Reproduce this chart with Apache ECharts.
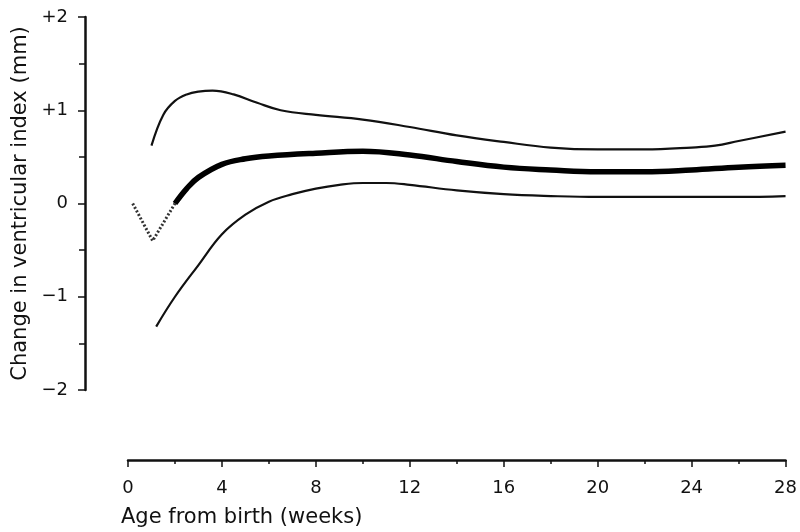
<!DOCTYPE html>
<html>
  <head>
    <meta charset="utf-8" />
  </head>
  <body style="margin: 0; background: #fff">
    <div id="container" style="width: 800px; height: 532px"></div>
    <script src="https://cdn.jsdelivr.net/npm/echarts@6/dist/echarts.min.js"></script>
    <script>
      // weeks from birth vs change in ventricular index (mm)
      const earlyDip = [[0.2, 0], [1.05, -0.4], [2, 0]]
      const meanLine = [
        [2, 0], [2.5, 0.16], [3, 0.28], [4, 0.42], [5, 0.48], [6, 0.51], [8, 0.54],
        [10, 0.56], [12, 0.52], [14, 0.45], [16, 0.39], [18, 0.36], [20, 0.34],
        [22, 0.34], [24, 0.36], [26, 0.39], [28, 0.41],
      ]
      const upperLine = [
        [1, 0.62], [1.5, 0.95], [2, 1.1], [2.5, 1.17], [3, 1.2], [3.6, 1.21], [4.5, 1.17],
        [5.5, 1.08], [6.5, 1.0], [8, 0.95], [10, 0.9], [12, 0.82], [14, 0.73], [16, 0.66],
        [18, 0.6], [20, 0.58], [22, 0.58], [24, 0.6], [25, 0.62], [26, 0.67], [28, 0.77],
      ]
      const lowerLine = [
        [1.2, -1.32], [2, -1.0], [3, -0.66], [4, -0.33], [5, -0.12], [6, 0.02], [7, 0.1],
        [8, 0.16], [9, 0.2], [10, 0.22], [11, 0.22], [12, 0.2], [14, 0.14], [16, 0.1],
        [18, 0.08], [20, 0.07], [22, 0.07], [24, 0.07], [26, 0.07], [28, 0.08],
      ]
      const yTickLabels = { '2': '+2', '1': '+1', '0': '0', '-1': '\u22121', '-2': '\u22122' }

      const font = 'DejaVu Sans'
      const ink = '#111'
      const chart = echarts.init(document.getElementById('container'), null, { renderer: 'canvas' })

      const thin = (data) => ({
        type: 'line',
        data: data,
        smooth: 0.4,
        symbol: 'none',
        lineStyle: { color: ink, width: 2.2 },
      })

      chart.setOption({
        animation: false,
        grid: { left: 128, right: 12, top: 17, bottom: 142 },
        xAxis: {
          type: 'value',
          min: 0,
          max: 28,
          interval: 4,
          offset: 70,
          axisLine: { show: true, onZero: false, lineStyle: { color: ink, width: 2.5 } },
          axisTick: { show: true, inside: false, length: 7, lineStyle: { color: ink, width: 1.5 } },
          minorTick: { show: true, splitNumber: 2, length: 4, lineStyle: { color: ink, width: 1.5 } },
          splitLine: { show: false },
          axisLabel: { color: ink, fontFamily: font, fontSize: 18, margin: 19 },
        },
        yAxis: {
          type: 'value',
          min: -2,
          max: 2,
          interval: 1,
          offset: 43,
          name: 'Change in ventricular index (mm)',
          nameLocation: 'middle',
          nameGap: 45,
          nameTextStyle: { color: ink, fontFamily: font, fontSize: 21 },
          axisLine: { show: true, onZero: false, lineStyle: { color: ink, width: 2.5 } },
          axisTick: { show: true, length: 7, lineStyle: { color: ink, width: 1.5 } },
          minorTick: { show: true, splitNumber: 2, length: 6, lineStyle: { color: ink, width: 1.5 } },
          splitLine: { show: false },
          axisLabel: {
            color: ink,
            fontFamily: font,
            fontSize: 18,
            margin: 17,
            formatter: (v) => yTickLabels[String(v)],
          },
        },
        graphic: [
          {
            type: 'text',
            left: 121,
            top: 507,
            style: { text: 'Age from birth (weeks)', fill: ink, font: '21px "DejaVu Sans"' },
          },
        ],
        series: [
          {
            type: 'line',
            data: earlyDip,
            symbol: 'none',
            lineStyle: { color: '#333', width: 3, type: [2, 2] },
          },
          {
            type: 'line',
            data: meanLine,
            smooth: 0.4,
            symbol: 'none',
            lineStyle: { color: '#000', width: 5.5 },
          },
          thin(upperLine),
          thin(lowerLine),
        ],
      })
    </script>
  </body>
</html>
